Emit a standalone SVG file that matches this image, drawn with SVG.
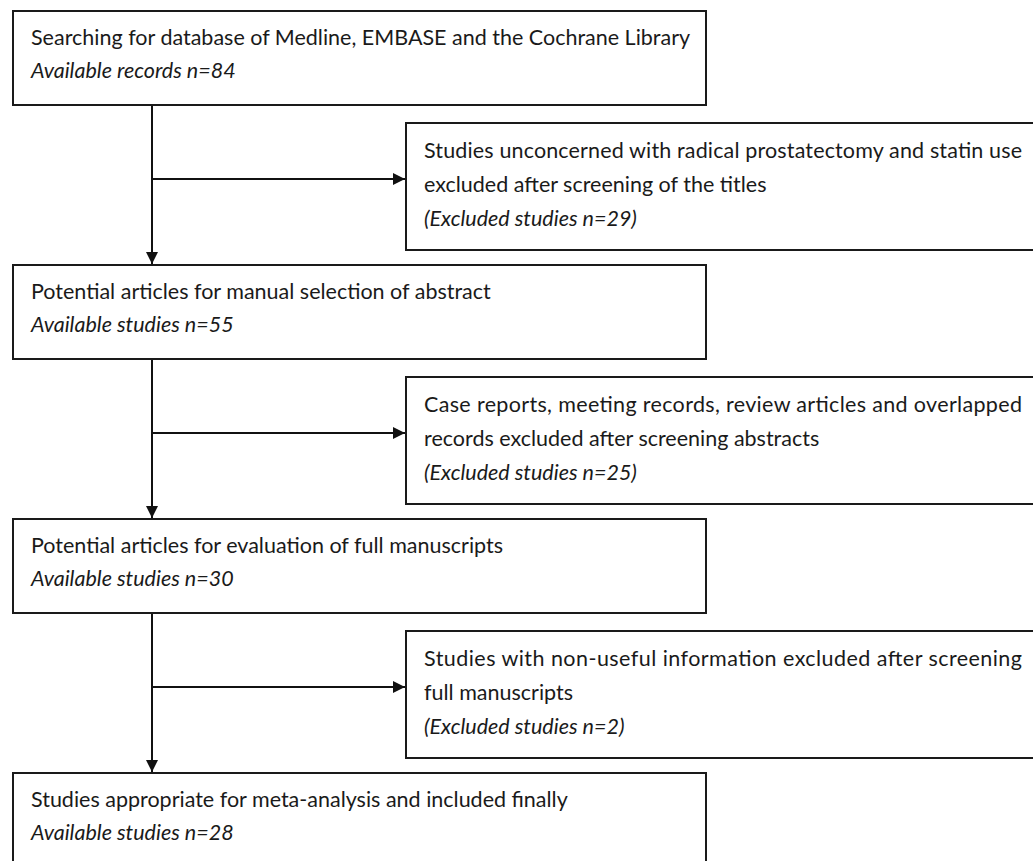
<svg xmlns="http://www.w3.org/2000/svg" width="1033" height="861" viewBox="0 0 1033 861">
<defs>
<style>
.box{fill:#fff;stroke:#1a1a1a;stroke-width:2}
.t{font-family:Lato,"Liberation Sans",sans-serif;font-size:21.5px;fill:#1a1a1a}
.i{font-style:italic}
.c{fill:none;stroke:#111;stroke-width:2}
</style>
<marker id="ah" viewBox="0 0 12 12" refX="12" refY="6" markerWidth="12" markerHeight="12" markerUnits="userSpaceOnUse" orient="auto">
<path d="M0,0 L12,6 L0,12 Z" fill="#111"/>
</marker>
</defs>
<rect width="1033" height="861" fill="#fff"/>
<g id="connectors">
<path class="c" d="M152,105 V264" marker-end="url(#ah)"/>
<path class="c" d="M152,179 H405" marker-end="url(#ah)"/>
<path class="c" d="M152,359 V518" marker-end="url(#ah)"/>
<path class="c" d="M152,433 H405" marker-end="url(#ah)"/>
<path class="c" d="M152,613 V772" marker-end="url(#ah)"/>
<path class="c" d="M152,687 H405" marker-end="url(#ah)"/>
</g>
<g id="n1">
<rect class="box" x="13" y="11" width="693" height="94"/>
<text class="t" x="31" y="45">Searching for database of Medline, EMBASE and the Cochrane Library</text>
<text class="t i" x="31" y="78">Available records n=84</text>
</g>
<g id="n2">
<rect class="box" x="406" y="123" width="640" height="127"/>
<text class="t" x="424" y="158" textLength="598" lengthAdjust="spacing">Studies unconcerned with radical prostatectomy and statin use</text>
<text class="t" x="424" y="192">excluded after screening of the titles</text>
<text class="t i" x="424" y="226">(Excluded studies n=29)</text>
</g>
<g id="n3">
<rect class="box" x="13" y="265" width="693" height="94"/>
<text class="t" x="31" y="299">Potential articles for manual selection of abstract</text>
<text class="t i" x="31" y="332">Available studies n=55</text>
</g>
<g id="n4">
<rect class="box" x="406" y="377" width="640" height="127"/>
<text class="t" x="424" y="412" textLength="598" lengthAdjust="spacing">Case reports, meeting records, review articles and overlapped</text>
<text class="t" x="424" y="446">records excluded after screening abstracts</text>
<text class="t i" x="424" y="480">(Excluded studies n=25)</text>
</g>
<g id="n5">
<rect class="box" x="13" y="519" width="693" height="94"/>
<text class="t" x="31" y="553">Potential articles for evaluation of full manuscripts</text>
<text class="t i" x="31" y="586">Available studies n=30</text>
</g>
<g id="n6">
<rect class="box" x="406" y="631" width="640" height="127"/>
<text class="t" x="424" y="666" textLength="598" lengthAdjust="spacing">Studies with non-useful information excluded after screening</text>
<text class="t" x="424" y="700">full manuscripts</text>
<text class="t i" x="424" y="734">(Excluded studies n=2)</text>
</g>
<g id="n7">
<rect class="box" x="13" y="773" width="693" height="100"/>
<text class="t" x="31" y="807">Studies appropriate for meta-analysis and included finally</text>
<text class="t i" x="31" y="840">Available studies n=28</text>
</g>
</svg>
